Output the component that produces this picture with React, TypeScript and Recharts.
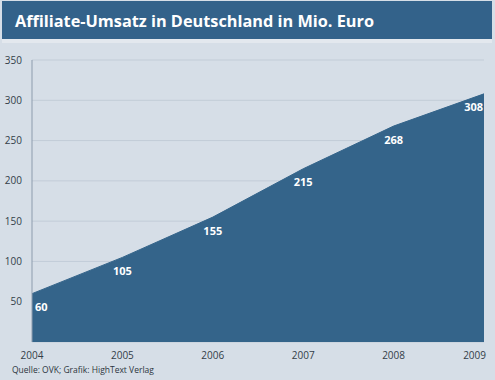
import React from "react";
import { AreaChart, Area, XAxis, YAxis, CartesianGrid, LabelList } from "recharts";

const years = ["2004", "2005", "2006", "2007", "2008", "2009"];
const umsatz = [60, 105, 155, 215, 268, 308];
const yTicks = [50, 100, 150, 200, 250, 300, 350];

const data = years.map((y, i) => ({ year: y, value: umsatz[i] }));

const FONT = "'Open Sans', 'DejaVu Sans', sans-serif";

const ValueLabel = (props: any) => {
  const { x, y, value, index } = props;
  const last = index === years.length - 1;
  const first = index === 0;
  return (
    <text
      x={first ? x + 3 : last ? x - 1 : x}
      y={y + 13}
      textAnchor={first ? "start" : last ? "end" : "middle"}
      dominantBaseline="central"
      fill="#ffffff"
      fontFamily={FONT}
      fontWeight={700}
      fontSize={11}
    >
      {value}
    </text>
  );
};

const XTick = (props: any) => {
  const { x, y, payload, index } = props;
  const last = index === years.length - 1;
  return (
    <text
      x={last ? x + 2 : x}
      y={y + 5}
      textAnchor={last ? "end" : "middle"}
      dominantBaseline="central"
      fill="#333d48"
      fontFamily={FONT}
      fontSize={10}
    >
      {payload.value}
    </text>
  );
};

export default function App() {
  return (
    <div
      style={{
        position: "absolute",
        left: 0,
        top: 0,
        width: 495,
        height: 380,
        background: "#d6dee7",
        overflow: "hidden",
      }}
    >
      <div
        style={{
          position: "absolute",
          left: 2,
          top: 1,
          width: 490,
          height: 38,
          background: "#33628a",
        }}
      />
      <div
        style={{
          position: "absolute",
          left: 2,
          top: 39,
          width: 490,
          height: 4,
          background: "#e3e8ee",
        }}
      />
      <div
        style={{
          position: "absolute",
          left: 15,
          top: 9,
          color: "#ffffff",
          fontFamily: FONT,
          fontWeight: 700,
          fontSize: 16.3,
          whiteSpace: "nowrap",
          lineHeight: "24px",
        }}
      >
        Affiliate-Umsatz in Deutschland in Mio. Euro
      </div>
      <div style={{ position: "absolute", left: 0, top: 0 }}>
        <AreaChart
          width={495}
          height={380}
          data={data}
          margin={{ top: 60, right: 11, bottom: 8, left: 0 }}
        >
          <CartesianGrid vertical={false} stroke="#c2ccd7" strokeWidth={1} />
          <XAxis
            dataKey="year"
            axisLine={false}
            tickLine={false}
            height={30}
            tick={<XTick />}
            interval={0}
          />
          <YAxis
            domain={[0, 350]}
            ticks={yTicks}
            width={32}
            axisLine={{ stroke: "#8d9cad" }}
            tickLine={false}
            tick={{ fill: "#333d48", fontSize: 10, fontFamily: FONT }}
            tickMargin={4}
          />
          <Area
            type="linear"
            dataKey="value"
            stroke="#34648a"
            strokeWidth={1}
            fill="#34648a"
            fillOpacity={1}
            isAnimationActive={false}
            dot={false}
            activeDot={false}
          >
            <LabelList dataKey="value" content={<ValueLabel />} />
          </Area>
        </AreaChart>
      </div>
      <div
        style={{
          position: "absolute",
          left: 12,
          top: 364,
          color: "#2c3540",
          fontFamily: FONT,
          fontSize: 8.5,
          whiteSpace: "nowrap",
          lineHeight: "12px",
        }}
      >
        Quelle: OVK; Grafik: HighText Verlag
      </div>
    </div>
  );
}
